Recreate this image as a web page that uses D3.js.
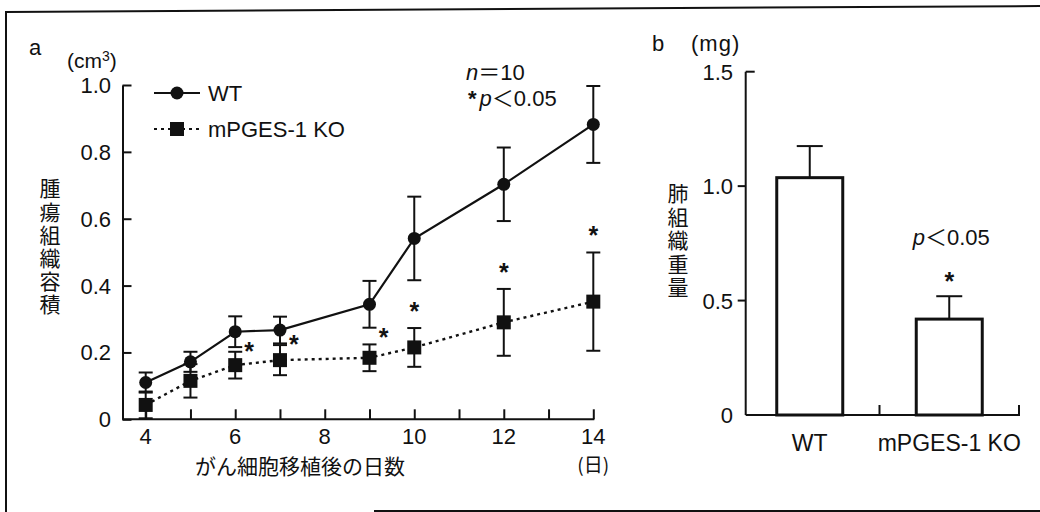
<!DOCTYPE html>
<html>
<head>
<meta charset="utf-8">
<script src="https://cdn.jsdelivr.net/npm/d3@7"></script>
<style>
    body { margin: 0; background: #fff; }
    svg text { font-family: "Liberation Sans", Arial, "Noto Sans CJK JP", sans-serif; fill: #111; }
    svg .jp { font-family: "Noto Sans CJK JP", sans-serif; }
    svg .vert { font-family: "Noto Sans CJK JP", sans-serif; writing-mode: vertical-rl; text-orientation: upright; }
</style>
</head>
<body>
<svg id="chart" width="1040" height="512"></svg>
<script>
// panel a : tumour volume (cm3) by day after transplant
const days = [4, 5, 6, 7, 9, 10, 12, 14];
const wtMean = [0.11, 0.172, 0.262, 0.267, 0.344, 0.541, 0.703, 0.882];
const wtSd = [0.03, 0.03, 0.046, 0.04, 0.07, 0.125, 0.11, 0.115];
const koMean = [0.043, 0.115, 0.162, 0.177, 0.184, 0.215, 0.29, 0.352];
const koSd = [0.04, 0.05, 0.04, 0.045, 0.04, 0.058, 0.1, 0.147];
const sigDays = [6, 7, 9, 10, 12, 14];
const dayTicks = [4, 6, 8, 10, 12, 14];
const volTicks = [0, 0.2, 0.4, 0.6, 0.8, 1.0];

// panel b : lung weight (mg)
const groups = ['WT', 'mPGES-1 KO'];
const lungMean = [1.037, 0.419];
const lungSd = [0.138, 0.1];
const lungTicks = [0, 0.5, 1.0, 1.5];

const svg = d3.select('#chart');
const ink = '#111';
const fs = '22px';

// scanned frame
svg.append('line').attr('x1', 6).attr('y1', 12).attr('x2', 1040).attr('y2', 6)
    .attr('stroke', ink).attr('stroke-width', 2);
svg.append('line').attr('x1', 6).attr('y1', 11).attr('x2', 6).attr('y2', 512)
    .attr('stroke', ink).attr('stroke-width', 2);
svg.append('line').attr('x1', 374).attr('y1', 511).attr('x2', 1040).attr('y2', 511)
    .attr('stroke', ink).attr('stroke-width', 2);

////////////////////////////////////////////////////////
// panel a
////////////////////////////////////////////////////////
const x = d3.scaleLinear().domain([4, 14]).range([145.7, 593.3]);
const y = d3.scaleLinear().domain([0, 1]).range([419.3, 85]);
const axisX = 122.5;

const gA = svg.append('g');

// y axis, ticks point inward
gA.append('g')
    .attr('transform', 'translate(' + axisX + ',0)')
    .call(d3.axisRight(y).tickValues(volTicks).tickSize(9).tickSizeOuter(0).tickFormat(''))
    .call(g => g.select('.domain').attr('stroke', ink).attr('stroke-width', 2))
    .call(g => g.selectAll('.tick line').attr('stroke', ink).attr('stroke-width', 2));
gA.selectAll('.ylab')
    .data(volTicks)
    .enter().append('text')
    .attr('x', 111)
    .attr('y', d => y(d) + 8)
    .attr('text-anchor', 'end')
    .style('font-size', fs)
    .text(d => d === 0 ? '0' : d.toFixed(1));

// x axis, ticks on every day
gA.append('g')
    .attr('transform', 'translate(0,' + y(0) + ')')
    .call(d3.axisTop(x).tickValues(d3.range(4, 15)).tickSize(10).tickSizeOuter(0).tickFormat(''))
    .call(g => g.select('.domain').remove())
    .call(g => g.selectAll('.tick line').attr('stroke', ink).attr('stroke-width', 2));
gA.append('line')
    .attr('x1', axisX).attr('x2', x(14) + 1)
    .attr('y1', y(0)).attr('y2', y(0))
    .attr('stroke', ink).attr('stroke-width', 2);
gA.selectAll('.xlab')
    .data(dayTicks)
    .enter().append('text')
    .attr('x', d => x(d))
    .attr('y', y(0) + 25)
    .attr('text-anchor', 'middle')
    .style('font-size', fs)
    .text(d => d);
gA.append('text').attr('x', x(14)).attr('y', y(0) + 53)
    .attr('text-anchor', 'middle').attr('class', 'jp').style('font-size', '19px').text('(日)');
gA.append('text').attr('x', 300).attr('y', 474)
    .attr('text-anchor', 'middle').attr('class', 'jp').style('font-size', '21px')
    .text('がん細胞移植後の日数');

// axis titles
gA.append('text').attr('x', 29).attr('y', 55).style('font-size', fs).text('a');
gA.append('text').attr('x', 67).attr('y', 68).style('font-size', '21px')
    .html('(cm<tspan dy="-7" style="font-size:14px">3</tspan><tspan dy="7">)</tspan>');
gA.append('text').attr('class', 'vert')
    .attr('x', 50).attr('y', 178)
    .style('font-size', '21px').style('letter-spacing', '2.2px')
    .text('腫瘍組織容積');

const wt = days.map((d, i) => ({day: d, mean: wtMean[i], sd: wtSd[i]}));
const ko = days.map((d, i) => ({day: d, mean: koMean[i], sd: koSd[i]}));

function errorBars(data, cls) {
    const g = gA.append('g').attr('class', cls);
    g.selectAll('line.v').data(data).enter().append('line')
        .attr('x1', d => x(d.day)).attr('x2', d => x(d.day))
        .attr('y1', d => y(d.mean - d.sd)).attr('y2', d => y(d.mean + d.sd))
        .attr('stroke', ink).attr('stroke-width', 2);
    [-1, 1].forEach(s => {
        g.selectAll('line.c' + s).data(data).enter().append('line')
            .attr('x1', d => x(d.day) - 7).attr('x2', d => x(d.day) + 7)
            .attr('y1', d => y(d.mean + s * d.sd)).attr('y2', d => y(d.mean + s * d.sd))
            .attr('stroke', ink).attr('stroke-width', 2);
    });
}
errorBars(ko, 'ko-err');
errorBars(wt, 'wt-err');

const line = d3.line().x(d => x(d.day)).y(d => y(d.mean));
gA.append('path').datum(ko).attr('d', line)
    .attr('fill', 'none').attr('stroke', ink).attr('stroke-width', 2.4)
    .attr('stroke-dasharray', '3,4');
gA.append('path').datum(wt).attr('d', line)
    .attr('fill', 'none').attr('stroke', ink).attr('stroke-width', 2.2);

gA.selectAll('.wtdot').data(wt).enter().append('circle')
    .attr('cx', d => x(d.day)).attr('cy', d => y(d.mean)).attr('r', 6.5).attr('fill', ink);
gA.selectAll('.kosq').data(ko).enter().append('rect')
    .attr('x', d => x(d.day) - 7).attr('y', d => y(d.mean) - 7)
    .attr('width', 14).attr('height', 14).attr('fill', ink);

// significance stars: beside the bar for early days, above it later
gA.selectAll('.star').data(ko.filter(d => sigDays.includes(d.day))).enter().append('text')
    .attr('x', d => d.day < 10 ? x(d.day) + 14 : x(d.day))
    .attr('y', d => d.day < 10 ? y(d.mean + d.sd) + (d.day === 9 ? 2 : 8) : y(d.mean + d.sd) - 8)
    .attr('text-anchor', 'middle')
    .style('font-size', '25px').style('font-weight', 'bold')
    .text('*');

// legend
const legend = [{name: 'WT', dash: null, y: 93}, {name: 'mPGES-1 KO', dash: '3,4', y: 129}];
legend.forEach((l, i) => {
    gA.append('line').attr('x1', 154).attr('x2', 200).attr('y1', l.y).attr('y2', l.y)
        .attr('stroke', ink).attr('stroke-width', 2.2).attr('stroke-dasharray', l.dash);
    if (i === 0) {
        gA.append('circle').attr('cx', 177).attr('cy', l.y).attr('r', 6.5).attr('fill', ink);
    } else {
        gA.append('rect').attr('x', 170).attr('y', l.y - 7).attr('width', 14).attr('height', 14).attr('fill', ink);
    }
    gA.append('text').attr('x', 208).attr('y', l.y + 8).style('font-size', fs).text(l.name);
});

gA.append('text').attr('x', 466).attr('y', 80).style('font-size', fs)
    .html('<tspan font-style="italic">n</tspan>＝10');
gA.append('text').attr('x', 468).attr('y', 106).style('font-size', fs)
    .html('<tspan font-weight="bold">*</tspan><tspan dx="3" font-style="italic">p</tspan>＜0.05');

////////////////////////////////////////////////////////
// panel b
////////////////////////////////////////////////////////
const yb = d3.scaleLinear().domain([0, 1.5]).range([415, 71.7]);
const xb = d3.scaleBand().domain(groups).range([740, 1019]).paddingInner(0).paddingOuter(0);
const bAxisX = 745.7;
const gB = svg.append('g');

gB.append('line').attr('x1', bAxisX).attr('x2', bAxisX).attr('y1', yb(0)).attr('y2', yb(1.5))
    .attr('stroke', ink).attr('stroke-width', 2);
gB.selectAll('.btick').data(lungTicks.slice(1)).enter().append('line')
    .attr('x1', d => d === 1.5 ? bAxisX : bAxisX - 8)
    .attr('x2', d => d === 1.5 ? bAxisX + 9 : bAxisX)
    .attr('y1', d => yb(d)).attr('y2', d => yb(d))
    .attr('stroke', ink).attr('stroke-width', 2);
gB.selectAll('.blab').data(lungTicks).enter().append('text')
    .attr('x', 733)
    .attr('y', d => yb(d) + 8)
    .attr('text-anchor', 'end')
    .style('font-size', fs)
    .text(d => d === 0 ? '0' : d.toFixed(1));

gB.append('line').attr('x1', bAxisX).attr('x2', xb.range()[1] + 1).attr('y1', yb(0)).attr('y2', yb(0))
    .attr('stroke', ink).attr('stroke-width', 2);
gB.selectAll('.bxtick').data([xb('mPGES-1 KO'), xb.range()[1]]).enter().append('line')
    .attr('x1', d => d).attr('x2', d => d)
    .attr('y1', yb(0)).attr('y2', yb(0) - 10)
    .attr('stroke', ink).attr('stroke-width', 2);

const bars = groups.map((g, i) => ({group: g, mean: lungMean[i], sd: lungSd[i]}));
const barW = 66;
gB.selectAll('.errb').data(bars).enter().append('line')
    .attr('x1', d => xb(d.group) + xb.bandwidth() / 2).attr('x2', d => xb(d.group) + xb.bandwidth() / 2)
    .attr('y1', d => yb(d.mean)).attr('y2', d => yb(d.mean + d.sd))
    .attr('stroke', ink).attr('stroke-width', 2);
gB.selectAll('.capb').data(bars).enter().append('line')
    .attr('x1', d => xb(d.group) + xb.bandwidth() / 2 - 13).attr('x2', d => xb(d.group) + xb.bandwidth() / 2 + 13)
    .attr('y1', d => yb(d.mean + d.sd)).attr('y2', d => yb(d.mean + d.sd))
    .attr('stroke', ink).attr('stroke-width', 2);
gB.selectAll('.bar').data(bars).enter().append('rect')
    .attr('x', d => xb(d.group) + (xb.bandwidth() - barW) / 2)
    .attr('y', d => yb(d.mean))
    .attr('width', barW)
    .attr('height', d => yb(0) - yb(d.mean))
    .attr('fill', '#fff').attr('stroke', ink).attr('stroke-width', 3);

gB.selectAll('.bxlab').data(groups).enter().append('text')
    .attr('x', d => xb(d) + xb.bandwidth() / 2)
    .attr('y', 451)
    .attr('text-anchor', 'middle')
    .style('font-size', '23px')
    .text(d => d);

gB.append('text').attr('x', 652).attr('y', 51).style('font-size', fs).text('b');
gB.append('text').attr('x', 691).attr('y', 51).style('font-size', fs).style('letter-spacing', '1px').text('(mg)');
gB.append('text').attr('class', 'vert')
    .attr('x', 678).attr('y', 183)
    .style('font-size', '21px').style('letter-spacing', '2.5px')
    .text('肺組織重量');

const koBar = bars[1];
const koX = xb(koBar.group) + xb.bandwidth() / 2;
gB.append('text').attr('x', koX).attr('y', yb(koBar.mean + koBar.sd) - 6)
    .attr('text-anchor', 'middle').style('font-size', '25px').style('font-weight', 'bold').text('*');
gB.append('text').attr('x', koX + 2).attr('y', 245).attr('text-anchor', 'middle')
    .style('font-size', fs)
    .html('<tspan font-style="italic">p</tspan>＜0.05');
</script>
</body>
</html>
